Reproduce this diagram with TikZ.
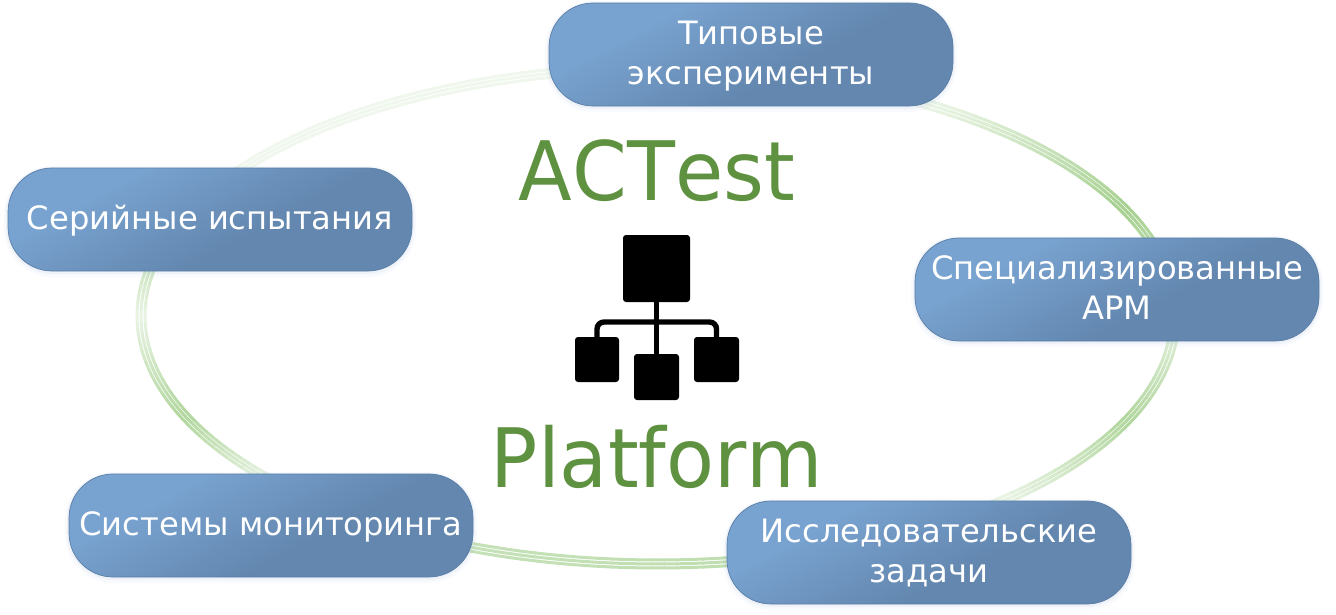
\documentclass[tikz,border=0pt]{standalone}
\usepackage{fontspec}
\setmainfont{DejaVu Sans}
\newfontfamily\titlefont[Kerning=Off]{DejaVu Sans}
\definecolor{cardlight}{HTML}{78A2CF}
\definecolor{carddark}{HTML}{6387AF}
\definecolor{cardedge}{HTML}{5A7EA6}
\definecolor{halo}{HTML}{7FA3CF}
\definecolor{ringgreen}{HTML}{96C87C}
\definecolor{titlegreen}{HTML}{5E9140}
\pgfdeclarehorizontalshading{cardgrad}{100bp}{color(0bp)=(cardlight); color(32bp)=(cardlight); color(58bp)=(carddark); color(100bp)=(carddark)}
\newcommand\onelabel[1]{\raisebox{-9.5pt}[30pt][30pt]{#1}}
\newcommand\twolabel[2]{\raisebox{-8.5pt}[50pt][50pt]{\begin{tabular}{@{}c@{}}#1\\#2\end{tabular}}}
\newcommand\titlelabel[1]{\scalebox{.957}[1]{#1}}
\tikzset{
  card/.style={rounded corners=44pt, minimum width=404pt, minimum height=103pt, inner sep=0pt,
    align=center, text=white, shading=cardgrad, shading angle=-62,
    draw=cardedge, line width=0.7pt,
    font=\fontsize{32.2}{40}\selectfont,
    preaction={draw=halo, draw opacity=.05, line width=8pt, transform canvas={yshift=-2pt}},
    preaction={draw=halo, draw opacity=.08, line width=4pt, transform canvas={yshift=-1pt}}},
  title/.style={anchor=base, text=titlegreen, inner sep=0pt, font=\titlefont\fontsize{82}{90}\selectfont},
  iconbox/.style={fill=black, rounded corners=3pt, inner sep=0pt},
  iconwire/.style={draw=black, line width=5.4pt}
}
\begin{document}
\begin{tikzpicture}[x=1pt,y=-1pt]
\useasboundingbox (0,0) rectangle (1336,614);
% ring: three thin concentric ellipses, shade varying along each visible arc
\foreach \a/\b/\p/\q in {
  6/25/35/75, 25/48/75/20, 48/82/20/50, 82/111/60/55, 111/140/45/25,
  140/156/25/75, 156/180/75/20, 180/190/20/45, 190/216/45/15, 216/283/14/14,
  283/300/14/15, 300/334/15/85, 334/366/85/35}{
  \pgfmathsetmacro{\steps}{int(ceil((\b-\a)/1.5))}
  \foreach \i in {1,...,\steps}{
    \pgfmathsetmacro{\ta}{\a+(\b-\a)*(\i-1)/\steps}
    \pgfmathsetmacro{\tb}{\a+(\b-\a)*\i/\steps+0.1}
    \pgfmathsetmacro{\pc}{\p+(\q-\p)*(\i-.5)/\steps}
    \foreach \off in {-4,0,4}{
      \draw[ringgreen!\pc!white, line width=3pt]
        ({658+(517+\off)*cos(\ta)},{316+(248+\off)*sin(\ta)}) --
        ({658+(517+\off)*cos(\tb)},{316+(248+\off)*sin(\tb)});
    }
  }
}
% cards
\node[card] (typical) at (751,54.5) {\twolabel{Типовые}{эксперименты}};
\node[card] (special) at (1117,289.5) {\twolabel{Специализированные}{АРМ}};
\node[card] (research) at (929,552.5) {\twolabel{Исследовательские}{задачи}};
\node[card] (monitor) at (271,525.5) {\onelabel{Системы мониторинга}};
\node[card] (serial) at (210,219.5) {\onelabel{Серийные испытания}};
% titles
\node[title] (actest) at (657,200) {\titlelabel{ACTest}};
\node[title] (platform) at (657,487) {\titlelabel{Platform}};
% icon
\node[iconbox, minimum width=67pt, minimum height=67pt] (big) at (656.5,268.5) {};
\node[iconbox, minimum width=44pt, minimum height=45pt] (lsq) at (597,359.5) {};
\node[iconbox, minimum width=45pt, minimum height=46pt] (msq) at (656.5,377) {};
\node[iconbox, minimum width=45pt, minimum height=45pt] (rsq) at (716.5,359.5) {};
\coordinate (bus) at (656.5,322);
\draw[iconwire] (big.south) -- (msq.north);
\draw[iconwire, rounded corners=7pt] (lsq.north) |- (bus) -| (rsq.north);
\end{tikzpicture}
\end{document}
